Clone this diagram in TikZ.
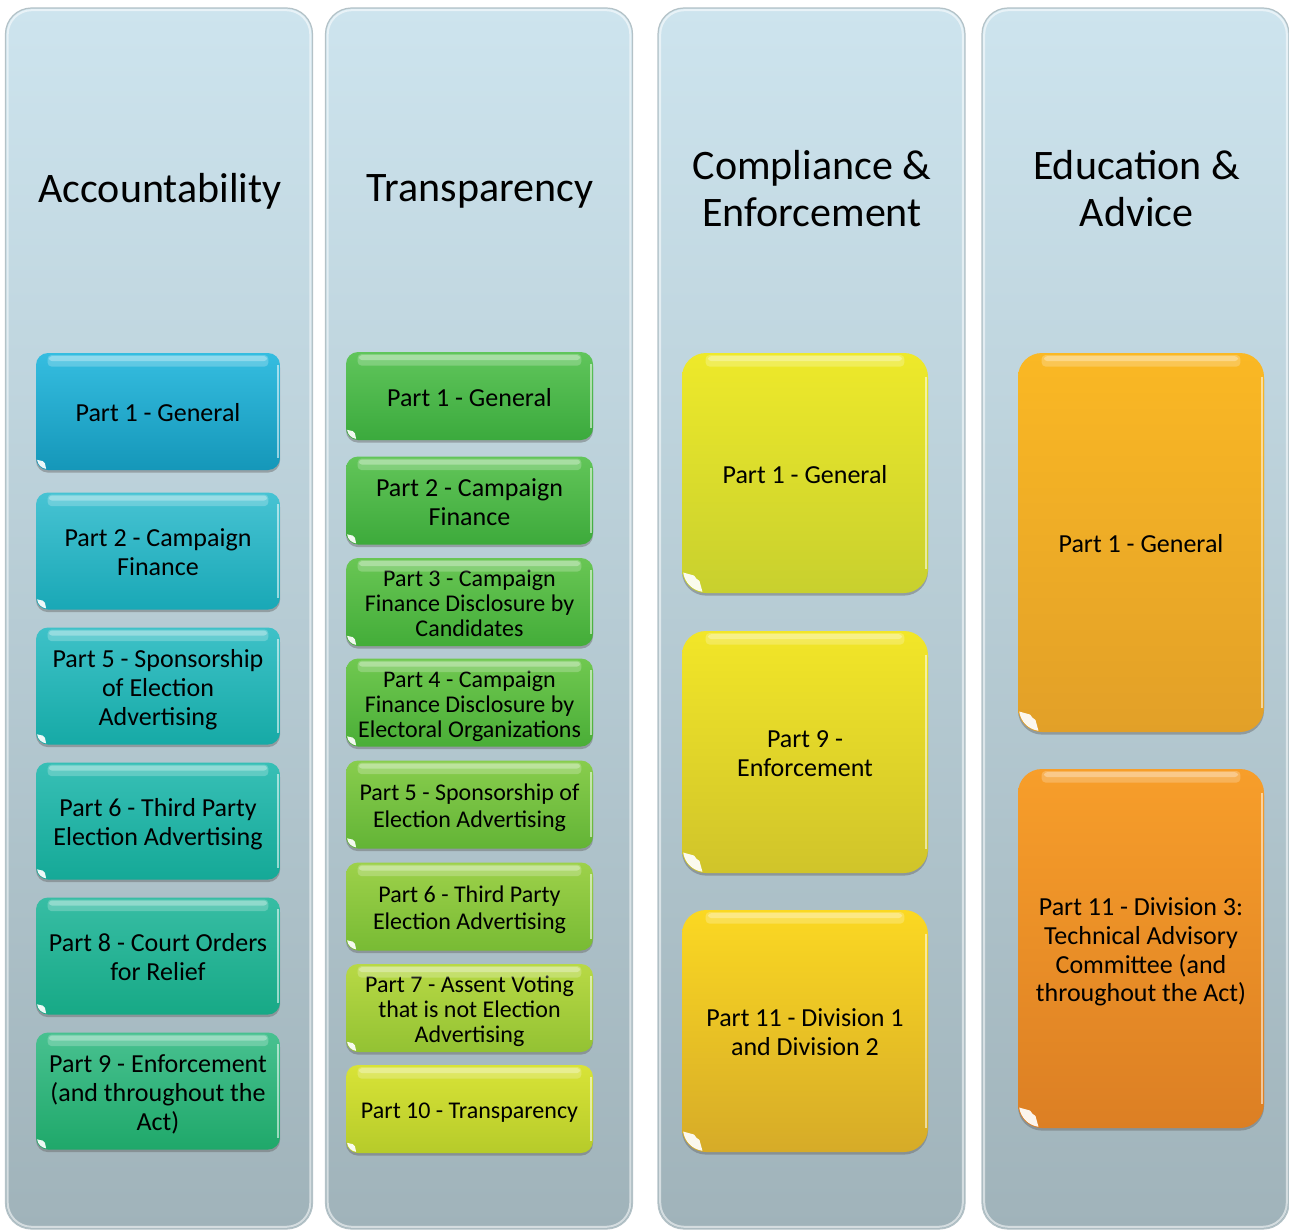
\documentclass[tikz,border=0pt]{standalone}
\usepackage{fontspec}
\setmainfont{Carlito}
\usetikzlibrary{shadows}

% panel background
\definecolor{colTop}{HTML}{CDE4EE}
\definecolor{colBot}{HTML}{A0B3BA}
\definecolor{colEdge}{HTML}{B4C2C7}
% accountability (blue -> teal -> green)
\definecolor{aAt}{HTML}{35BDE0}\definecolor{aAb}{HTML}{1597B9}
\definecolor{aBt}{HTML}{47C3D3}\definecolor{aBb}{HTML}{19A8B6}
\definecolor{aCt}{HTML}{3EC1C8}\definecolor{aCb}{HTML}{16AAA6}
\definecolor{aDt}{HTML}{37BFB6}\definecolor{aDb}{HTML}{15A997}
\definecolor{aEt}{HTML}{37BDA4}\definecolor{aEb}{HTML}{17A986}
\definecolor{aFt}{HTML}{48C190}\definecolor{aFb}{HTML}{1FA86A}
% transparency (green -> lime)
\definecolor{bAt}{HTML}{60C55B}\definecolor{bAb}{HTML}{3BAA3D}
\definecolor{bBt}{HTML}{62C559}\definecolor{bBb}{HTML}{3DAA3B}
\definecolor{bCt}{HTML}{69C654}\definecolor{bCb}{HTML}{43AD39}
\definecolor{bDt}{HTML}{70C850}\definecolor{bDb}{HTML}{4AAE37}
\definecolor{bEt}{HTML}{88CD4D}\definecolor{bEb}{HTML}{63B436}
\definecolor{bFt}{HTML}{9DD14A}\definecolor{bFb}{HTML}{78BB34}
\definecolor{bGt}{HTML}{B8D945}\definecolor{bGb}{HTML}{93C233}
\definecolor{bHt}{HTML}{D8E337}\definecolor{bHb}{HTML}{B6CB2A}
% compliance (yellow -> gold)
\definecolor{cAt}{HTML}{EEE92A}\definecolor{cAb}{HTML}{C8D02E}
\definecolor{cBt}{HTML}{F2E628}\definecolor{cBb}{HTML}{D0C42A}
\definecolor{cCt}{HTML}{FBD822}\definecolor{cCb}{HTML}{D6AB28}
% education (amber -> orange)
\definecolor{dAt}{HTML}{FAB824}\definecolor{dAb}{HTML}{E2A028}
\definecolor{dBt}{HTML}{F79E2A}\definecolor{dBb}{HTML}{DC7F24}

\tikzset{
  panel/.style={rounded corners=13pt, top color=colTop, bottom color=colBot,
    draw=colEdge, line width=.6pt, minimum width=153.5pt, minimum height=610.5pt,
    inner sep=0pt},
  heading/.style={align=center, font=\fontsize{21}{23.5}\selectfont},
  gbox/.style={rounded corners=6pt, align=center, inner sep=0pt, text=black,
    drop shadow={shadow xshift=0pt, shadow yshift=-1.3pt, opacity=.45, fill=black!60}},
  bigbox/.style={gbox, rounded corners=12pt},
  txtA/.style={font=\fontsize{13}{14.6}\selectfont},
  txtB/.style={font=\fontsize{12}{12.6}\selectfont},
  txtC/.style={font=\fontsize{12}{13.5}\selectfont},
}

% fixed-height struts on the first and last line so every label sits
% the same way inside its box (slightly below the geometric centre)
\newcommand\tx[1]{\rule{0pt}{\dimexpr .944em+2pt\relax}#1\rule[-.3em]{0pt}{.3em}}

% glossy highlights on a box: top sheen, right rim, bottom-left glint
\newcommand\gloss[2]{%
  \pgfmathsetlengthmacro\glro{#2pt-0.7pt}%
  \pgfmathsetlengthmacro\glri{0.62*#2pt-0.9pt}%
  \fill[white, opacity=.22, rounded corners=2pt]
    ([xshift=#2pt, yshift=-1.2pt]#1.north west) rectangle ([xshift=-#2pt, yshift=-7pt]#1.north east);
  \fill[white, opacity=.30, rounded corners=1.5pt]
    ([xshift=1.1*#2pt, yshift=-1.8pt]#1.north west) rectangle ([xshift=-1.1*#2pt, yshift=-4.2pt]#1.north east);
  \draw[white, opacity=.55, line width=.8pt]
    ([xshift=-1.1pt, yshift=-#2pt]#1.north east) -- ([xshift=-1.1pt, yshift=#2pt]#1.south east);
  \begin{scope}[shift={([xshift=#2pt, yshift=#2pt]#1.south west)}]
    \fill[white, opacity=.92] (188:\glro) arc[start angle=188, end angle=262, radius=\glro]
      -- (242:\glri) arc[start angle=242, end angle=208, radius=\glri] -- cycle;
  \end{scope}}

\begin{document}
\begin{tikzpicture}[x=0.5pt, y=-0.5pt]
\useasboundingbox (0,0) rectangle (1289,1230);

% four panels
\foreach \nm/\cx in {p1/159, p2/479, p3/811.5, p4/1135.5}{
  \node[panel] (\nm) at (\cx,618.5) {};
  \draw[white, opacity=.55, line width=1pt, rounded corners=12pt]
    ([shift={(1.4pt,-1.4pt)}]\nm.north west) rectangle ([shift={(-1.4pt,1.4pt)}]\nm.south east);
}

% headings
\node[heading] (h1) at (160,191) {Accountability};
\node[heading] (h2) at (480,191) {Transparency};
\node[heading] (h3) at (812,188.5) {Compliance \&\\Enforcement};
\node[heading] (h4) at (1136.5,188.5) {Education \&\\Advice};

% Accountability
\tikzset{colA/.style={gbox, txtA, minimum width=122pt, minimum height=58.5pt}}
\node[colA, top color=aAt, bottom color=aAb] (a1) at (158,411.5) {\tx{Part 1 - General}};
\node[colA, top color=aBt, bottom color=aBb] (a2) at (158,551) {\tx{Part 2 - Campaign\\Finance}};
\node[colA, top color=aCt, bottom color=aCb] (a3) at (158,686) {\tx{Part 5 - Sponsorship\\of Election\\Advertising}};
\node[colA, top color=aDt, bottom color=aDb] (a4) at (158,821) {\tx{Part 6 - Third Party\\Election Advertising}};
\node[colA, top color=aEt, bottom color=aEb] (a5) at (158,956) {\tx{Part 8 - Court Orders\\for Relief}};
\node[colA, top color=aFt, bottom color=aFb] (a6) at (158,1091) {\tx{Part 9 - Enforcement\\(and throughout the\\Act)}};
\foreach \n in {a1,a2,a3,a4,a5,a6}{\gloss{\n}{6}}

% Transparency
\tikzset{colB/.style={gbox, minimum width=123.5pt, minimum height=44pt}}
\node[colB, txtA, top color=bAt, bottom color=bAb] (b1) at (469.5,396) {\tx{Part 1 - General}};
\node[colB, txtA, top color=bBt, bottom color=bBb] (b2) at (469.5,500.5) {\tx{Part 2 - Campaign\\Finance}};
\node[colB, txtB, top color=bCt, bottom color=bCb] (b3) at (469.5,602) {\tx{Part 3 - Campaign\\Finance Disclosure by\\Candidates}};
\node[colB, txtB, top color=bDt, bottom color=bDb] (b4) at (469.5,702.5) {\tx{Part 4 - Campaign\\Finance Disclosure by\\Electoral Organizations}};
\node[colB, txtC, top color=bEt, bottom color=bEb] (b5) at (469.5,804.5) {\tx{Part 5 - Sponsorship of\\Election Advertising}};
\node[colB, txtC, top color=bFt, bottom color=bFb] (b6) at (469.5,906.5) {\tx{Part 6 - Third Party\\Election Advertising}};
\node[colB, txtB, top color=bGt, bottom color=bGb] (b7) at (469.5,1008) {\tx{Part 7 - Assent Voting\\that is not Election\\Advertising}};
\node[colB, txtC, top color=bHt, bottom color=bHb] (b8) at (469.5,1109) {\tx{Part 10 - Transparency}};
\foreach \n in {b1,b2,b3,b4,b5,b6,b7,b8}{\gloss{\n}{6}}

% Compliance & Enforcement
\tikzset{colC/.style={bigbox, txtA, minimum width=123pt}}
\node[colC, minimum height=120pt, top color=cAt, bottom color=cAb] (c1) at (805,473) {\tx{Part 1 - General}};
\node[colC, minimum height=121pt, top color=cBt, bottom color=cBb] (c2) at (805,752) {\tx{Part 9 -\\Enforcement}};
\node[colC, minimum height=121pt, top color=cCt, bottom color=cCb] (c3) at (805,1031) {\tx{Part 11 - Division 1\\and Division 2}};
\foreach \n in {c1,c2,c3}{\gloss{\n}{12}}

% Education & Advice
\tikzset{colD/.style={bigbox, font=\fontsize{13}{14.3}\selectfont, minimum width=123pt}}
\node[colD, minimum height=189.5pt, top color=dAt, bottom color=dAb] (d1) at (1141,542.5) {\tx{Part 1 - General}};
\node[colD, minimum height=179.5pt, top color=dBt, bottom color=dBb] (d2) at (1141,948.5) {\tx{Part 11 - Division 3:\\Technical Advisory\\Committee (and\\throughout the Act)}};
\foreach \n in {d1,d2}{\gloss{\n}{12}}

\end{tikzpicture}
\end{document}
